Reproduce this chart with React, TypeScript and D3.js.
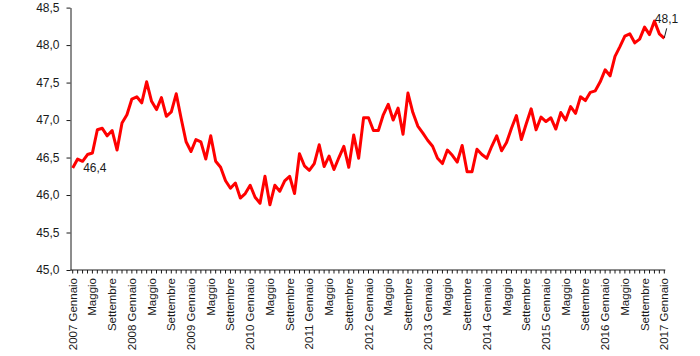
import React, { useEffect, useRef } from 'react';
import * as d3 from 'd3';

// monthly values, 2007 Gennaio .. 2017 Gennaio (121 months)
const values: number[] = [
  46.36, 46.48, 46.45, 46.54, 46.56, 46.87, 46.89, 46.79, 46.86, 46.60, 46.96, 47.07,
  47.28, 47.31, 47.23, 47.51, 47.25, 47.14, 47.30, 47.05, 47.11, 47.35, 47.02, 46.71,
  46.58, 46.74, 46.71, 46.48, 46.79, 46.45, 46.37, 46.19, 46.09, 46.16, 45.96, 46.02,
  46.13, 45.97, 45.89, 46.25, 45.87, 46.13, 46.05, 46.19, 46.25, 46.02, 46.55, 46.39,
  46.33, 46.42, 46.67, 46.38, 46.52, 46.34, 46.50, 46.65, 46.37, 46.80, 46.49, 47.03,
  47.03, 46.86, 46.86, 47.07, 47.21, 47.00, 47.16, 46.81, 47.36, 47.10, 46.92, 46.83,
  46.73, 46.65, 46.49, 46.42, 46.60, 46.53, 46.44, 46.66, 46.31, 46.31, 46.61, 46.54,
  46.49, 46.65, 46.79, 46.59, 46.70, 46.89, 47.06, 46.74, 46.95, 47.15, 46.87, 47.04,
  46.98, 47.03, 46.88, 47.10, 47.00, 47.18, 47.09, 47.31, 47.26, 47.37, 47.39, 47.51,
  47.67, 47.59, 47.85, 47.98, 48.12, 48.15, 48.03, 48.08, 48.24, 48.14, 48.32, 48.15,
  48.09,
];

const years = ['2007', '2008', '2009', '2010', '2011', '2012', '2013', '2014', '2015', '2016', '2017'];
const monthLabels = ['Gennaio', 'Maggio', 'Settembre'];
const yTicks = [45, 45.5, 46, 46.5, 47, 47.5, 48, 48.5];
const firstLabel = '46,4';
const lastLabel = '48,1';

const fmt = (d: number) => d.toFixed(1).replace('.', ',');
const FONT = "'Liberation Sans', Arial, sans-serif";

export default function App() {
  const svgRef = useRef<SVGSVGElement>(null);

  useEffect(() => {
    if (!svgRef.current) return;
    document.body.style.margin = '0';
    const svg = d3.select(svgRef.current);
    svg.selectAll('*').remove();

    const margin = { top: 7.6, bottom: 270, left: 72.7, right: 664.3 };
    const axisX = 70.5;

    const x = d3.scaleLinear().domain([0, values.length - 1]).range([margin.left, margin.right]);
    const y = d3.scaleLinear().domain([45, 48.5]).range([margin.bottom, margin.top]);

    // y axis
    const yAxis = svg.append('g')
      .attr('transform', `translate(${axisX},0)`)
      .call(d3.axisLeft(y).tickValues(yTicks).tickFormat(d => fmt(+d)).tickSize(4).tickSizeOuter(0).tickPadding(7));
    yAxis.selectAll('text').attr('font-family', FONT).attr('font-size', 12).attr('fill', '#1a1a1a');
    yAxis.selectAll('line, path').attr('stroke', '#1a1a1a');

    // x axis: a tick per month, label every four months
    const months = d3.range(values.length);
    const labelFor = (i: number) => {
      if (i % 4 !== 0) return '';
      const m = (i % 12) / 4;
      return m === 0 ? `${years[i / 12]} ${monthLabels[0]}` : monthLabels[m];
    };
    const xg = svg.append('g');
    xg.append('line')
      .attr('x1', axisX).attr('x2', x(values.length - 1) + 1)
      .attr('y1', y(45)).attr('y2', y(45))
      .attr('stroke', '#1a1a1a');
    xg.selectAll('line.tick')
      .data(months)
      .join('line')
      .attr('class', 'tick')
      .attr('x1', d => x(d)).attr('x2', d => x(d))
      .attr('y1', y(45)).attr('y2', y(45) + 3.5)
      .attr('stroke', '#1a1a1a');
    xg.selectAll('text')
      .data(months.filter(i => i % 4 === 0))
      .join('text')
      .attr('transform', d => `translate(${x(d)},${y(45) + 8}) rotate(-90)`)
      .attr('dy', '0.35em')
      .attr('text-anchor', 'end')
      .attr('font-family', FONT)
      .attr('font-size', 11.5)
      .attr('fill', '#1a1a1a')
      .text(d => labelFor(d));

    // line
    const line = d3.line<number>().x((_, i) => x(i)).y(d => y(d));
    svg.append('path')
      .datum(values)
      .attr('d', line)
      .attr('fill', 'none')
      .attr('stroke', '#ff0000')
      .attr('stroke-width', 3)
      .attr('stroke-linejoin', 'round');

    // data labels
    svg.append('text')
      .attr('x', x(0) + 10.5).attr('y', y(values[0]) + 3.5)
      .attr('font-family', FONT).attr('font-size', 12).attr('fill', '#1a1a1a')
      .text(firstLabel);

    const last = values.length - 1;
    svg.append('line')
      .attr('x1', x(last) + 2.4).attr('y1', y(values[last]) - 10)
      .attr('x2', x(last)).attr('y2', y(values[last]) - 0.6)
      .attr('stroke', '#1a1a1a').attr('stroke-width', 1);
    svg.append('text')
      .attr('x', x(last) - 9.5).attr('y', y(values[last]) - 15.5)
      .attr('font-family', FONT).attr('font-size', 12).attr('fill', '#1a1a1a')
      .text(lastLabel);
  }, []);

  return (
    <div style={{ width: 700, height: 356 }}>
      <svg ref={svgRef} width={700} height={356} style={{ display: 'block', background: '#fff' }}></svg>
    </div>
  );
}
